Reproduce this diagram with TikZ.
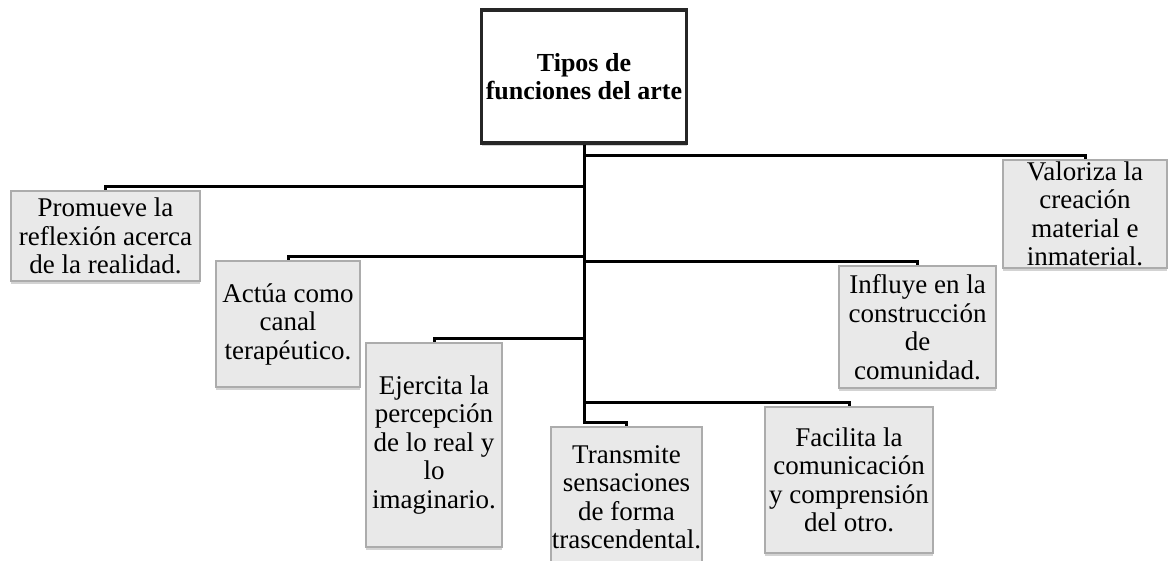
\documentclass[tikz,border=0pt]{standalone}
\usepackage{fontspec}
\setmainfont{Liberation Serif}
\usetikzlibrary{shadows}

\tikzset{
  funcbox/.style={draw=gray!65, fill=gray!17, line width=1.3pt, align=center,
    inner sep=0pt, font=\fontsize{27}{28.5}\selectfont,
    drop shadow={shadow xshift=0pt, shadow yshift=-2.5pt, opacity=0.35}},
  rootbox/.style={funcbox, draw=black!85, fill=white, line width=3.5pt,
    font=\fontsize{26}{28.5}\selectfont\bfseries},
  conn/.style={line width=3pt, black},
}

\begin{document}
\begin{tikzpicture}[x=1pt, y=-1pt]
    \useasboundingbox (0,0) rectangle (1168,560);

    % Root
    \node[rootbox, minimum width=205pt, minimum height=133pt] (root) at (584,76.5)
        {Tipos de\\funciones del arte};

    % Left side
    \node[funcbox, minimum width=189pt, minimum height=90pt] (promueve) at (105.5,236)
        {Promueve la\\reflexión acerca\\de la realidad.};
    \node[funcbox, minimum width=144pt, minimum height=126pt] (actua) at (288,324)
        {Actúa como\\canal\\terapéutico.};
    \node[funcbox, minimum width=136pt, minimum height=204pt] (ejercita) at (434,445)
        {Ejercita la\\percepción\\de lo real y\\lo\\imaginario.};
    \node[funcbox, minimum width=151pt, minimum height=140pt] (transmite) at (626.5,497)
        {Transmite\\sensaciones\\de forma\\trascendental.};

    % Right side
    \node[funcbox, minimum width=168pt, minimum height=146pt] (facilita) at (849,480)
        {Facilita la\\comunicación\\y comprensión\\del otro.};
    \node[funcbox, minimum width=157pt, minimum height=122pt] (influye) at (917.5,327)
        {Influye en la\\construcción\\de\\comunidad.};
    \node[funcbox, minimum width=164pt, minimum height=108pt] (valoriza) at (1085,214)
        {Valoriza la\\creación\\material e\\inmaterial.};

    % Branches
    \foreach \n in {promueve,actua,ejercita,transmite,facilita,influye,valoriza}
        \draw[conn] (root.south) |- ([yshift=4pt]\n.north) -- (\n.north);
\end{tikzpicture}
\end{document}
